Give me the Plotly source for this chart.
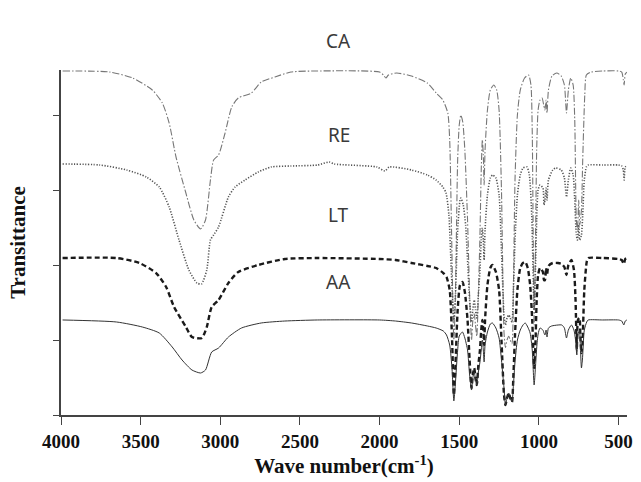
import plotly.graph_objects as go

# ---------------- data ----------------
ca_wn = [3990, 3694, 3550, 3427, 3364, 3321, 3278, 3216, 3166, 3124, 3093, 3062, 3042, 3011, 2970, 2928, 2887, 2805, 2743, 2657, 2557,
         2390, 2000, 1976, 1960, 1945, 1893, 1800, 1700, 1645, 1603, 1572, 1560, 1548, 1534, 1525, 1510, 1500, 1490, 1478, 1465,
         1448, 1435, 1423, 1415, 1406, 1398, 1390, 1380, 1370, 1362, 1355, 1349, 1344, 1338, 1323, 1305, 1283, 1265, 1250, 1235,
         1219, 1210, 1200, 1189, 1180, 1169, 1160, 1150, 1135, 1117, 1090, 1065, 1050, 1042, 1030, 1022, 1014, 1005, 993, 980,
         970, 962, 955, 949, 940, 918, 888, 860, 840, 827, 815, 800, 785, 775, 765, 758, 750, 744, 733, 725, 712, 702, 672, 600,
         500, 480, 470, 465, 458, 448]
ca_t = [4.587, 4.573, 4.493, 4.333, 4.160, 3.893, 3.440, 2.960, 2.600, 2.480, 2.600, 3.133, 3.400, 3.467, 3.760, 4.107, 4.227, 4.293, 4.440, 4.507, 4.573,
        4.587, 4.573, 4.533, 4.493, 4.533, 4.560, 4.520, 4.427, 4.293, 4.200, 4.027, 3.667, 2.400, 1.000, 1.500, 3.400, 3.867, 4.000, 3.907, 3.533,
        2.600, 1.600, 1.000, 1.250, 1.350, 1.200, 1.050, 1.600, 2.400, 3.267, 3.667, 3.467, 3.067, 3.533, 4.067, 4.333, 4.400, 4.333, 4.067, 3.000,
        1.100, 0.900, 1.000, 1.050, 1.000, 0.950, 1.700, 3.133, 4.000, 4.333, 4.493, 4.533, 4.400, 3.800, 1.200, 2.200, 3.533, 4.067, 4.200, 4.227,
        4.133, 4.067, 4.200, 4.027, 4.333, 4.520, 4.560, 4.520, 4.400, 4.027, 4.333, 4.493, 4.400, 3.933, 2.600, 2.467, 2.867, 2.533, 2.733, 3.400, 4.267, 4.533, 4.573, 4.587,
        4.587, 4.573, 4.467, 4.400, 4.547, 4.573]

re_wn = [3990, 3756, 3588, 3464, 3383, 3321, 3259, 3197, 3147, 3118, 3085, 3062, 3042, 3011, 2949, 2907, 2845, 2762, 2681, 2557,
         2390, 2316, 2285, 2017, 1966, 1940, 1800, 1700, 1645, 1603, 1583, 1565, 1550, 1534, 1525, 1510, 1495, 1490, 1475, 1460,
         1448, 1435, 1423, 1415, 1406, 1398, 1390, 1380, 1370, 1362, 1355, 1349, 1344, 1338, 1323, 1305, 1290, 1270, 1250, 1235,
         1219, 1210, 1200, 1189, 1180, 1169, 1160, 1150, 1135, 1117, 1100, 1075, 1060, 1045, 1030, 1022, 1014, 1005, 993, 975,
         968, 962, 955, 949, 940, 913, 895, 860, 840, 827, 815, 800, 785, 775, 765, 758, 750, 744, 733, 725, 715, 702, 690, 600,
         500, 480, 470, 465, 458, 448]
re_t = [3.347, 3.333, 3.267, 3.173, 3.040, 2.773, 2.333, 1.933, 1.760, 1.747, 1.933, 2.333, 2.400, 2.507, 2.907, 3.040, 3.133, 3.240, 3.307, 3.320,
        3.333, 3.373, 3.347, 3.307, 3.253, 3.307, 3.267, 3.200, 3.133, 3.040, 2.960, 2.667, 1.933, 1.267, 1.533, 2.467, 2.867, 2.893, 2.800, 2.533,
        2.067, 1.533, 1.240, 1.400, 1.533, 1.400, 1.293, 1.600, 1.933, 2.333, 2.493, 2.333, 2.067, 2.467, 2.933, 3.160, 3.200, 3.160, 2.933, 2.200,
        1.333, 1.200, 1.293, 1.333, 1.293, 1.240, 1.667, 2.333, 2.933, 3.200, 3.293, 3.307, 3.200, 2.667, 1.400, 1.933, 2.600, 3.000, 3.067, 3.027,
        2.800, 2.867, 3.027, 2.867, 3.133, 3.267, 3.293, 3.267, 3.160, 2.907, 3.133, 3.293, 3.200, 2.867, 2.400, 2.333, 2.533, 2.333, 2.400, 2.667, 3.133, 3.307, 3.333, 3.333,
        3.333, 3.320, 3.267, 3.133, 3.307, 3.320]

lt_wn = [3990, 3651, 3508, 3403, 3340, 3290, 3216, 3178, 3116, 3085, 3054, 3011, 2949, 2887, 2762, 2595,
         2390, 2000, 1900, 1800, 1700, 1645, 1600, 1580, 1560, 1545, 1534, 1525, 1510, 1495, 1480, 1465,
         1448, 1435, 1423, 1415, 1406, 1398, 1390, 1380, 1370, 1362, 1355, 1349, 1344, 1338, 1323, 1305, 1292, 1270, 1250, 1235,
         1219, 1210, 1200, 1189, 1180, 1169, 1160, 1150, 1135, 1117, 1100, 1086, 1070, 1055, 1042, 1030, 1022, 1014, 1005, 993, 975,
         968, 962, 955, 949, 940, 913, 880, 856, 840, 827, 815, 796, 780, 770, 762, 755, 745, 740, 733, 727, 715, 700, 691, 600,
         500, 480, 467, 458, 448]
lt_t = [2.093, 2.093, 2.027, 1.893, 1.707, 1.440, 1.173, 1.040, 1.027, 1.173, 1.440, 1.533, 1.760, 1.907, 2.000, 2.080,
        2.093, 2.080, 2.067, 2.027, 1.987, 1.960, 1.893, 1.840, 1.667, 1.000, 0.267, 0.600, 1.400, 1.733, 1.773, 1.640,
        1.267, 0.733, 0.360, 0.533, 0.627, 0.493, 0.400, 0.667, 0.867, 1.133, 1.267, 1.133, 0.933, 1.267, 1.733, 1.960, 2.000, 1.907, 1.667, 1.000,
        0.267, 0.133, 0.227, 0.293, 0.227, 0.173, 0.533, 1.067, 1.667, 1.960, 2.027, 2.040, 1.960, 1.733, 1.267, 0.627, 0.933, 1.533, 1.867, 1.960, 1.907,
        1.800, 1.800, 1.960, 1.867, 1.987, 2.027, 2.027, 2.013, 1.973, 1.867, 2.000, 2.067, 1.933, 1.533, 0.867, 1.267, 1.293, 1.067, 0.827, 0.933, 1.667, 2.040, 2.093, 2.093,
        2.080, 2.067, 2.013, 2.080, 2.093]

aa_wn = [3990, 3651, 3489, 3383, 3302, 3240, 3178, 3124, 3093, 3054, 3011, 2949, 2867, 2743, 2595,
         2390, 2000, 1900, 1800, 1700, 1645, 1600, 1580, 1560, 1545, 1534, 1525, 1510, 1500, 1480, 1465,
         1448, 1435, 1423, 1415, 1406, 1398, 1390, 1380, 1370, 1362, 1355, 1349, 1344, 1338, 1323, 1305, 1292, 1270, 1250, 1235,
         1219, 1210, 1200, 1189, 1180, 1169, 1160, 1150, 1135, 1117, 1100, 1086, 1070, 1055, 1042, 1030, 1022, 1014, 1005, 993, 975,
         968, 962, 955, 949, 940, 920, 880, 856, 840, 827, 815, 796, 780, 770, 762, 755, 745, 740, 733, 727, 715, 700, 691, 600,
         500, 480, 467, 458, 448]
aa_t = [1.267, 1.240, 1.173, 1.093, 0.907, 0.733, 0.600, 0.560, 0.600, 0.840, 0.893, 1.040, 1.160, 1.227, 1.253,
        1.267, 1.267, 1.253, 1.227, 1.187, 1.160, 1.120, 1.067, 0.933, 0.600, 0.187, 0.400, 0.867, 1.053, 1.107, 1.027,
        0.867, 0.533, 0.333, 0.493, 0.573, 0.467, 0.400, 0.573, 0.707, 0.867, 1.000, 0.867, 0.707, 0.933, 1.107, 1.213, 1.227, 1.160, 1.027, 0.733,
        0.360, 0.133, 0.227, 0.293, 0.227, 0.173, 0.400, 0.707, 1.000, 1.133, 1.200, 1.227, 1.173, 1.093, 0.867, 0.400, 0.627, 0.893, 1.080, 1.160, 1.133,
        1.093, 1.067, 1.133, 1.040, 1.160, 1.187, 1.200, 1.200, 1.160, 1.027, 1.133, 1.200, 1.133, 1.000, 0.800, 1.067, 1.133, 0.933, 0.627, 0.733, 1.133, 1.240, 1.267, 1.267,
        1.267, 1.253, 1.200, 1.253, 1.267]

sample_names = ["CA", "RE", "LT", "AA"]
label_wn = [2255, 2255, 2255, 2255]
label_t = [5.19, 3.93, 2.67, 1.77]

x_ticks = [4000, 3500, 3000, 2500, 2000, 1500, 1000, 500]
y_ticks = [0, 1, 2, 3, 4]
y_range = [0, 4.6]

# ---------------- figure ----------------
series = [
    (ca_wn, ca_t, dict(color="#777777", width=1.1, dash="7px,2px,1.5px,2px")),
    (re_wn, re_t, dict(color="#555555", width=1.6, dash="1.2px,1.6px")),
    (lt_wn, lt_t, dict(color="#1a1a1a", width=2.4, dash="5px,3px")),
    (aa_wn, aa_t, dict(color="#333333", width=1.0)),
]

fig = go.Figure()
for (wn, t, ln), name in zip(series, sample_names):
    fig.add_trace(go.Scatter(x=wn, y=t, mode="lines", name=name,
                             line=dict(shape="spline", smoothing=0.6, **ln),
                             showlegend=False, hoverinfo="skip"))

# curve labels: x in data units, y converted to paper fraction of the y range
for name, lx, ly in zip(sample_names, label_wn, label_t):
    fig.add_annotation(x=lx, y=(ly - y_range[0]) / (y_range[1] - y_range[0]),
                       xref="x", yref="paper", text=name, showarrow=False,
                       font=dict(family="Noto Sans", size=19, color="#3a3a3a"))

serif = "Liberation Serif"
fig.update_layout(
    width=641, height=482,
    margin=dict(l=61, r=8, t=70, b=67),
    paper_bgcolor="white", plot_bgcolor="white",
    xaxis=dict(range=[4000, 447], tickvals=x_ticks, ticktext=[str(v) for v in x_ticks],
               showgrid=False, zeroline=False, showline=True, linecolor="#444", linewidth=1.5,
               ticks="outside", ticklen=8, tickwidth=1.3, tickcolor="#444",
               tickfont=dict(family=serif, size=19, color="#111", weight="bold"),
               title=dict(text="Wave number(cm<sup>-1</sup>)", standoff=8,
                          font=dict(family=serif, size=21, color="#111", weight="bold"))),
    yaxis=dict(range=y_range, tickvals=y_ticks, showticklabels=False,
               showgrid=False, zeroline=False, showline=True, linecolor="#444", linewidth=1.5,
               ticks="outside", ticklen=6, tickwidth=1.3, tickcolor="#444",
               title=dict(text="Transittance", standoff=22,
                          font=dict(family=serif, size=21, color="#111", weight="bold"))),
)

fig.write_html("out.html", config={"displayModeBar": False},
               post_script="document.body.style.margin='0';document.body.style.overflow='hidden';")
